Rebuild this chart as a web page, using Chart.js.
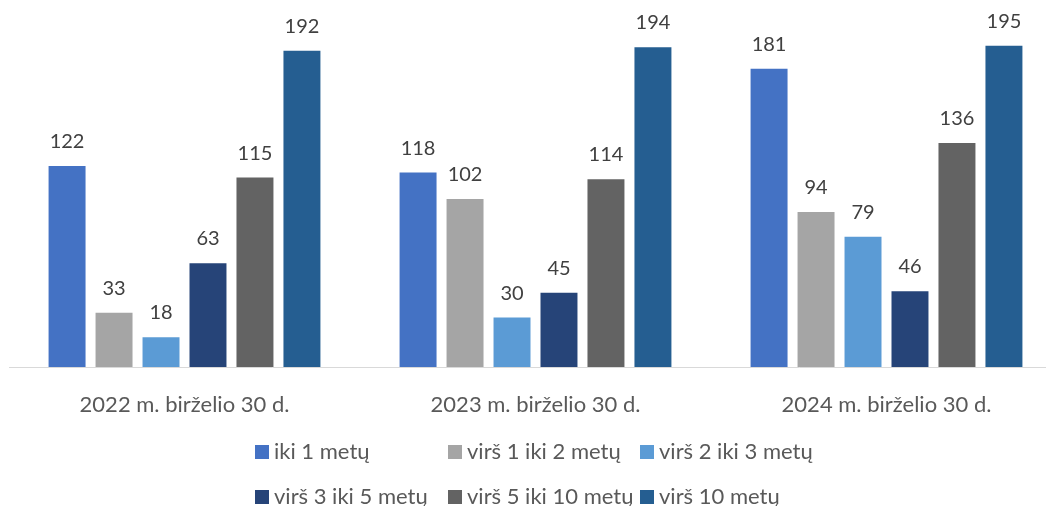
<!DOCTYPE html>
<html>
<head>
<meta charset="utf-8">
<script src="https://cdn.jsdelivr.net/npm/chart.js@4/dist/chart.umd.min.js"></script>
<style>
  html, body { margin: 0; padding: 0; background: #fff; overflow: hidden; }
  #wrap { position: relative; width: 1062px; height: 506px; }
  #chartBox { position: absolute; left: 0; top: 0; width: 1062px; height: 420px; }
  #legend { position: absolute; left: 0; top: 0; width: 1046px; height: 506px; font-family: Lato, "DejaVu Sans", sans-serif; font-size: 22px; color: #595959; }
  .li { position: absolute; display: flex; align-items: center; white-space: nowrap; }
  .sq { width: 14px; height: 14px; margin-right: 5px; }
  .tx { position: relative; top: -2px; }
</style>
</head>
<body>
<div id="wrap">
  <div id="chartBox"><canvas id="c"></canvas></div>
  <div id="legend"></div>
</div>
<script>
const categories = ["2022 m. birželio 30 d.", "2023 m. birželio 30 d.", "2024 m. birželio 30 d."];
const seriesNames = ["iki 1 metų", "virš 1 iki 2 metų", "virš 2 iki 3 metų", "virš 3 iki 5 metų", "virš 5 iki 10 metų", "virš 10 metų"];
const iki1 = [122, 118, 181];
const virs1iki2 = [33, 102, 94];
const virs2iki3 = [18, 30, 79];
const virs3iki5 = [63, 45, 46];
const virs5iki10 = [115, 114, 136];
const virs10 = [192, 194, 195];
const seriesColors = ["#4472C4", "#A5A5A5", "#5B9BD5", "#264478", "#636363", "#255E91"];

const seriesValues = [iki1, virs1iki2, virs2iki3, virs3iki5, virs5iki10, virs10];
const FONT = "Lato, 'DejaVu Sans', sans-serif";

const labelPlugin = {
  id: 'valueLabels',
  afterDatasetsDraw(chart) {
    const ctx = chart.ctx;
    ctx.save();
    ctx.font = "20px " + FONT;
    ctx.fillStyle = "#404040";
    ctx.textAlign = "center";
    ctx.textBaseline = "alphabetic";
    chart.data.datasets.forEach((ds, i) => {
      const meta = chart.getDatasetMeta(i);
      meta.data.forEach((el, j) => {
        ctx.fillText(String(ds.data[j]), el.x, el.y - 18);
      });
    });
    ctx.restore();
  }
};

new Chart(document.getElementById('c'), {
  type: 'bar',
  data: {
    labels: categories,
    datasets: seriesNames.map((n, i) => ({
      label: n,
      data: seriesValues[i],
      backgroundColor: seriesColors[i],
      categoryPercentage: 0.803,
      barPercentage: 0.787
    }))
  },
  options: {
    responsive: true,
    maintainAspectRatio: false,
    animation: false,
    layout: { padding: { left: 9, right: 0, top: 21, bottom: 0 } },
    plugins: { legend: { display: false }, tooltip: { enabled: false } },
    scales: {
      x: {
        grid: { display: false },
        border: { display: true, color: "#D9D9D9", width: 1 },
        ticks: { color: "#595959", font: { family: FONT, size: 22 }, padding: 17, maxRotation: 0 },
        afterFit(scale) { scale.height = 53; }
      },
      y: {
        display: false,
        min: 0,
        max: 210
      }
    }
  },
  plugins: [labelPlugin]
});

// legend built from series arrays
const legendPos = [[255, 452], [448, 452], [640, 452], [255, 497], [448, 497], [640, 497]];
const lg = document.getElementById('legend');
seriesNames.forEach((n, i) => {
  const d = document.createElement('div');
  d.className = 'li';
  d.style.left = legendPos[i][0] + 'px';
  d.style.top = (legendPos[i][1] - 14) + 'px';
  d.style.height = '28px';
  const s = document.createElement('span');
  s.className = 'sq';
  s.style.background = seriesColors[i];
  const t = document.createElement('span');
  t.className = 'tx';
  t.textContent = n;
  d.appendChild(s); d.appendChild(t);
  lg.appendChild(d);
});
</script>
</body>
</html>
